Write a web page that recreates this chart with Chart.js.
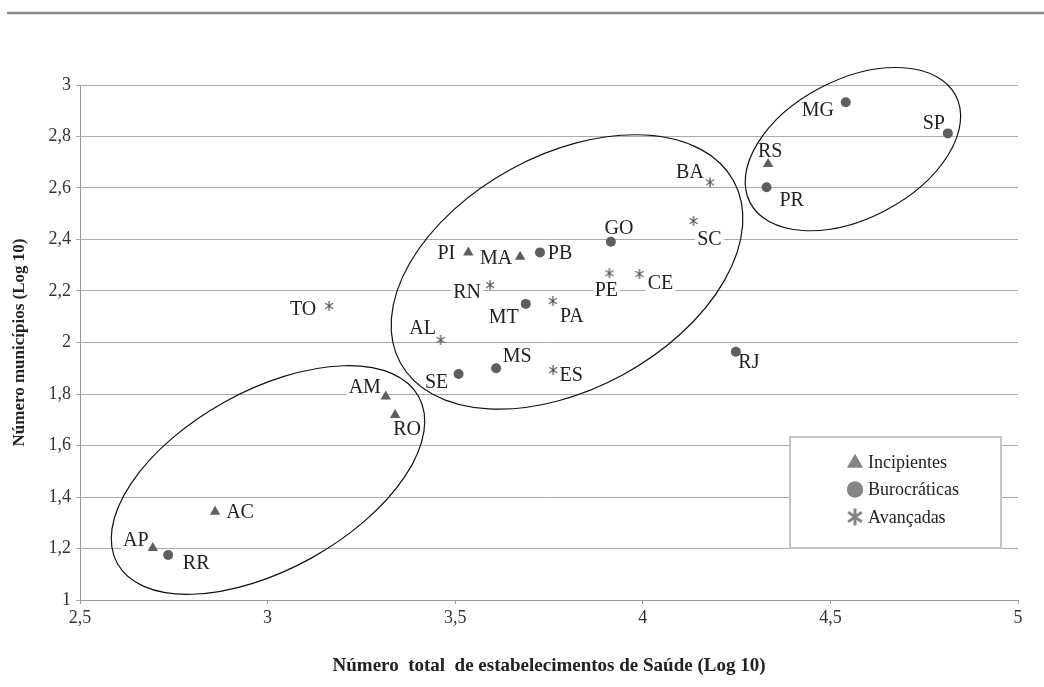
<!DOCTYPE html>
<html><head><meta charset="utf-8">
<script src="https://cdn.jsdelivr.net/npm/chart.js@4"></script>
<style>html,body{margin:0;padding:0;background:#fff;}#wrap{width:1044px;height:687px;position:relative;}</style>
</head><body><div id="wrap"><canvas id="c" width="1044" height="687"></canvas></div>
<script>
// ---- data ----
const seriesNames = ['Incipientes', 'Burocráticas', 'Avançadas'];
const incipientesStates = ['PI', 'MA', 'AM', 'RO', 'AC', 'AP', 'RS'];
const incipientesX = [3.535, 3.673, 3.315, 3.340, 2.860, 2.694, 4.334];
const incipientesY = [2.350, 2.333, 1.790, 1.718, 1.343, 1.202, 2.693];
const burocraticasStates = ['PB', 'GO', 'MT', 'MS', 'SE', 'RJ', 'MG', 'SP', 'PR', 'RR'];
const burocraticasX = [3.726, 3.915, 3.688, 3.609, 3.509, 4.248, 4.541, 4.813, 4.330, 2.735];
const burocraticasY = [2.350, 2.391, 2.150, 1.900, 1.878, 1.964, 2.933, 2.812, 2.603, 1.175];
const avancadasStates = ['SC', 'RN', 'PE', 'CE', 'PA', 'AL', 'ES', 'TO', 'BA'];
const avancadasX = [4.135, 3.593, 3.911, 3.991, 3.760, 3.461, 3.761, 3.164, 4.179];
const avancadasY = [2.472, 2.223, 2.269, 2.266, 2.161, 2.010, 1.893, 2.142, 2.622];
const xTickLabels = ['2,5', '3', '3,5', '4', '4,5', '5'];
const yTickLabels = ['1', '1,2', '1,4', '1,6', '1,8', '2', '2,2', '2,4', '2,6', '2,8', '3'];
const xTitle = 'Número  total  de estabelecimentos de Saúde (Log 10)';
const yTitle = 'Número municípios (Log 10)';
// cluster ellipses (data units: centre x, centre y, semi-axes in x-units, tilt in degrees)
const groupCx = [3.001, 3.798, 4.560];
const groupCy = [1.466, 2.274, 2.751];
const groupA = [0.459, 0.506, 0.309];
const groupB = [0.238, 0.312, 0.185];
const groupTilt = [29, 28.6, 27.5];

// ---- styling ----
const FONT = "'Liberation Serif', 'DejaVu Serif', serif";
const MARK = '#5e5e5e';
const LEG_MARK = '#858585';
const TXT = '#222';
const labelOffset = {
  PI: [-22, 0], MA: [-24, 1], PB: [20, 0], GO: [8, -14], SC: [16, 18], RN: [-23, 7],
  PE: [-3, 17], CE: [21, 9], MT: [-22, 13], PA: [19, 15], AL: [-18, -12], MS: [21, -13],
  SE: [-22, 8], ES: [18, 5], RJ: [13, 10], TO: [-26, 3], MG: [-28, 7], SP: [-14, -11],
  RS: [2, -13], PR: [25, 13], BA: [-20, -11], AM: [-21, -10], RO: [12, 14], AC: [25, 0],
  AP: [-17, -8], RR: [28, 8]
};

function drawAsterisk(ctx, x, y, r, lw, color) {
  ctx.save();
  ctx.strokeStyle = color; ctx.lineWidth = lw; ctx.lineCap = 'butt';
  ctx.beginPath();
  ctx.moveTo(x, y - r); ctx.lineTo(x, y + r);
  const d = r * 0.8;
  ctx.moveTo(x - d, y - d * 0.72); ctx.lineTo(x + d, y + d * 0.72);
  ctx.moveTo(x - d, y + d * 0.72); ctx.lineTo(x + d, y - d * 0.72);
  ctx.stroke();
  ctx.restore();
}
function asteriskCanvas(r, lw, color) {
  const s = Math.ceil(2 * r + lw + 2);
  const cv = document.createElement('canvas');
  cv.width = s; cv.height = s;
  drawAsterisk(cv.getContext('2d'), s / 2, s / 2, r, lw, color);
  return cv;
}
const astData = asteriskCanvas(5, 1.2, '#4a4a4a');

function mk(xs, ys, names) { return xs.map((x, i) => ({ x: x, y: ys[i], s: names[i] })); }

const labelPlugin = {
  id: 'stateLabels',
  beforeDatasetsDraw(chart) {
    const ctx = chart.ctx;
    ctx.save();
    ctx.font = '20px ' + FONT;
    ctx.textAlign = 'center';
    ctx.textBaseline = 'middle';
    chart.data.datasets.forEach((ds, di) => {
      const meta = chart.getDatasetMeta(di);
      ds.data.forEach((p, i) => {
        const el = meta.data[i];
        const off = labelOffset[p.s] || [15, 0];
        const tx = el.x + off[0], ty = el.y + off[1];
        const w = ctx.measureText(p.s).width;
        ctx.fillStyle = '#fff';
        ctx.fillRect(tx - w / 2 - 2, ty - 9, w + 4, 18);
        ctx.fillStyle = TXT;
        ctx.fillText(p.s, tx, ty + 1);
      });
    });
    ctx.restore();
  },
  afterDatasetsDraw(chart) {
    const ctx = chart.ctx;
    const xs = chart.scales.x, ys = chart.scales.y;
    const pxPerUnit = xs.getPixelForValue(3) - xs.getPixelForValue(2.5);
    ctx.save();
    ctx.strokeStyle = '#111';
    ctx.lineWidth = 1.2;
    groupCx.forEach((cx, i) => {
      ctx.beginPath();
      ctx.ellipse(xs.getPixelForValue(cx), ys.getPixelForValue(groupCy[i]),
        groupA[i] * pxPerUnit * 2, groupB[i] * pxPerUnit * 2, -groupTilt[i] * Math.PI / 180, 0, Math.PI * 2);
      ctx.stroke();
    });
    ctx.restore();
  },
  afterDraw(chart) {
    const ctx = chart.ctx;
    const ca = chart.chartArea;
    ctx.save();
    // top rule
    ctx.strokeStyle = '#8a8a8a'; ctx.lineWidth = 2.5;
    ctx.beginPath(); ctx.moveTo(7, 13); ctx.lineTo(chart.width, 13); ctx.stroke();
    // legend box
    const L = ca.right - 228, T = ca.top + 352, W = 211, H = 111;
    ctx.fillStyle = '#fff';
    ctx.fillRect(L, T, W, H);
    ctx.strokeStyle = '#c4c4c4'; ctx.lineWidth = 2;
    ctx.strokeRect(L, T, W, H);
    const styles = ['triangle', 'circle', 'ast'];
    ctx.font = '18px ' + FONT;
    ctx.textBaseline = 'middle';
    ctx.textAlign = 'left';
    seriesNames.forEach((n, i) => {
      const my = T + 25 + i * 27.5, mx = L + 65;
      if (styles[i] === 'ast') {
        drawAsterisk(ctx, mx, my, 8.5, 3, LEG_MARK);
      } else {
        ctx.fillStyle = LEG_MARK; ctx.strokeStyle = LEG_MARK; ctx.lineWidth = 0;
        Chart.helpers.drawPoint(ctx, { pointStyle: styles[i], radius: styles[i] === 'triangle' ? 9 : 8, borderWidth: 0 }, mx, my + (i === 0 ? 1 : 0));
        ctx.fill();
      }
      ctx.fillStyle = TXT;
      ctx.fillText(n, L + 78, my + 1);
    });
    ctx.restore();
  }
};

const tickFont = { family: FONT, size: 18 };
new Chart(document.getElementById('c').getContext('2d'), {
  type: 'scatter',
  data: {
    datasets: [
      { label: seriesNames[0], data: mk(incipientesX, incipientesY, incipientesStates), pointStyle: 'triangle', pointRadius: 6, backgroundColor: MARK, borderColor: MARK, borderWidth: 0 },
      { label: seriesNames[1], data: mk(burocraticasX, burocraticasY, burocraticasStates), pointStyle: 'circle', pointRadius: 5, backgroundColor: MARK, borderColor: MARK, borderWidth: 0 },
      { label: seriesNames[2], data: mk(avancadasX, avancadasY, avancadasStates), pointStyle: astData, pointRadius: 5, backgroundColor: MARK, borderColor: MARK, borderWidth: 0 }
    ]
  },
  options: {
    responsive: false,
    animation: false,
    events: [],
    layout: { padding: { left: 0, right: 26, top: 85, bottom: 0 } },
    plugins: { legend: { display: false }, tooltip: { enabled: false } },
    scales: {
      x: {
        type: 'linear', min: 2.5, max: 5,
        ticks: { stepSize: 0.5, autoSkip: false, maxRotation: 0, padding: 3, color: '#333', font: tickFont,
          callback: (v) => xTickLabels[Math.round((v - 2.5) * 2)] },
        grid: { drawOnChartArea: false, drawTicks: true, tickLength: 4, color: '#999' },
        border: { color: '#999', width: 1 },
        title: { display: true, text: xTitle, color: TXT, font: { family: FONT, size: 19, weight: 'bold' }, padding: { top: 0, bottom: 10 } },
        afterFit(s) { s.height = 87; }
      },
      y: {
        type: 'linear', min: 1, max: 3,
        ticks: { stepSize: 0.2, autoSkip: false, padding: 5, color: '#333', font: tickFont,
          callback: (v) => yTickLabels[Math.round((v - 1) * 5)] },
        grid: { color: '#ababab', tickLength: 4, lineWidth: 1 },
        border: { color: '#999', width: 1 },
        title: { display: true, text: yTitle, color: TXT, font: { family: FONT, size: 17, weight: 'bold' }, padding: { top: 9, bottom: 0 } },
        afterFit(s) { s.width = 80; }
      }
    }
  },
  plugins: [labelPlugin]
});
</script>
</body></html>
